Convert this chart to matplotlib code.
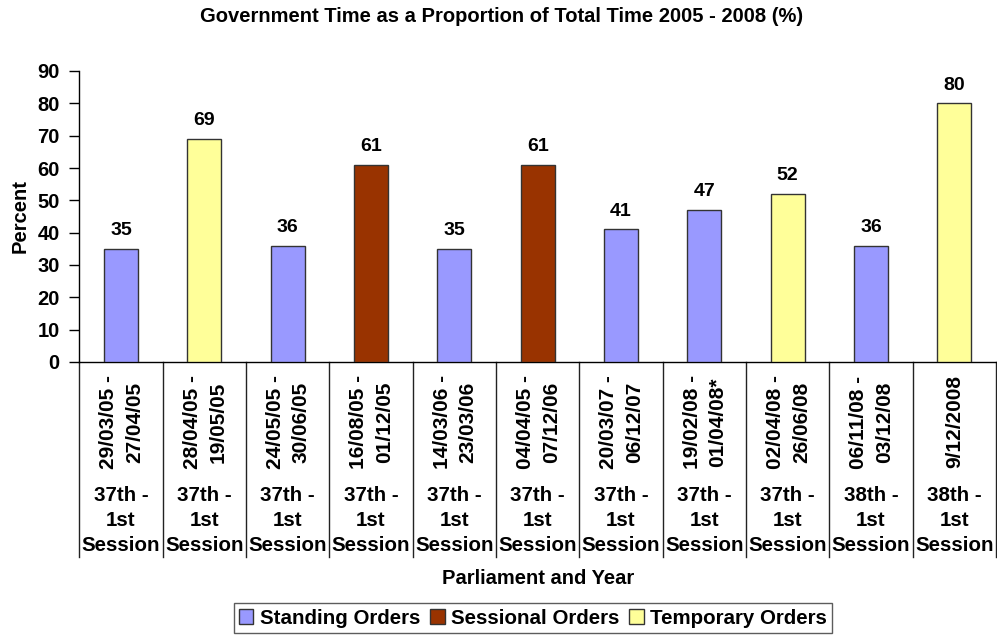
import matplotlib
matplotlib.use("Agg")
import matplotlib.pyplot as plt
from matplotlib.patches import Patch
import matplotlib.transforms as mtransforms

plt.rcParams['font.family'] = ['Liberation Sans', 'DejaVu Sans']
plt.rcParams['font.weight'] = 'bold'

date_labels = ["29/03/05 -\n27/04/05", "28/04/05 -\n19/05/05", "24/05/05 -\n30/06/05",
               "16/08/05 -\n01/12/05", "14/03/06 -\n23/03/06", "04/04/05 -\n07/12/06",
               "20/03/07 -\n06/12/07", "19/02/08 -\n01/04/08*", "02/04/08 -\n26/06/08",
               "06/11/08 -\n03/12/08", "9/12/2008"]
session_labels = ["37th -\n1st\nSession"] * 9 + ["38th -\n1st\nSession"] * 2
values = [35, 69, 36, 61, 35, 61, 41, 47, 52, 36, 80]
order_types = ["Standing", "Temporary", "Standing", "Sessional", "Standing", "Sessional",
               "Standing", "Standing", "Temporary", "Standing", "Temporary"]
type_names = ["Standing", "Sessional", "Temporary"]
legend_labels = ["Standing Orders", "Sessional Orders", "Temporary Orders"]
colors = {"Standing": "#9999FF", "Sessional": "#993300", "Temporary": "#FFFF99"}
y_ticks = [0, 10, 20, 30, 40, 50, 60, 70, 80, 90]

W, H = 997, 637
fig = plt.figure(figsize=(W / 100, H / 100), dpi=100)
left, right, top, bottom = 79.3, 996, 71, 362
ax = fig.add_axes([left / W, 1 - bottom / H, (right - left) / W, (bottom - top) / H])

n = len(values)
x = list(range(n))
ax.bar(x, values, width=0.41, color=[colors[t] for t in order_types],
       edgecolor='#333333', linewidth=1, zorder=3)
for xi, v in zip(x, values):
    ax.annotate(str(v), (xi, v), xytext=(0, 7), textcoords='offset points',
                ha='center', va='bottom', fontsize=14, fontweight='bold')

ax.set_xlim(-0.5, n - 0.5)
ax.set_ylim(0, 90)
ax.set_yticks(y_ticks)
ax.tick_params(axis='y', direction='out', length=7, width=1, labelsize=14.5, pad=7)
ax.set_xticks([])
for s in ['top', 'right']:
    ax.spines[s].set_visible(False)
ax.spines['left'].set_linewidth(1)
ax.spines['bottom'].set_linewidth(1)

ax.set_ylabel("Percent", fontsize=14.5, fontweight='bold', labelpad=6)

trans = mtransforms.blended_transform_factory(ax.transData, ax.transAxes)
axh = bottom - top
sep_bottom = -(557 - bottom) / axh
for k in range(n + 1):
    ax.plot([k - 0.5, k - 0.5], [0, sep_bottom], color='#222222', lw=1,
            transform=trans, clip_on=False)

for xi, d, s in zip(x, date_labels, session_labels):
    ax.text(xi + 0.01, -(422 - bottom) / axh, d, rotation=90, ha='center', va='center',
            multialignment='center', fontsize=15, fontweight='bold',
            transform=trans, linespacing=1.45)
    ax.text(xi, -(521 - bottom) / axh, s, ha='center', va='center',
            multialignment='center', fontsize=14.8, fontweight='bold',
            transform=trans, linespacing=1.4)

fig.text(502 / W, 1 - 17 / H, "Government Time as a Proportion of Total Time 2005 - 2008 (%)",
         ha='center', va='center', fontsize=14.5, fontweight='bold')
fig.text(538 / W, 1 - 578 / H, "Parliament and Year", ha='center', va='center',
         fontsize=14.5, fontweight='bold')

handles = [Patch(facecolor=colors[t], edgecolor='#333333', label=l)
           for t, l in zip(type_names, legend_labels)]
leg = fig.legend(handles=handles, loc='center', bbox_to_anchor=(533 / W, 1 - 618 / H),
                 ncol=3, frameon=True, fancybox=False, edgecolor='#333333',
                 prop={'size': 14.8, 'weight': 'bold'}, handlelength=0.7, handleheight=0.7,
                 handletextpad=0.3, columnspacing=0.5, borderpad=0.25)
leg.get_frame().set_linewidth(1)

fig.savefig("out.png", dpi=100)
